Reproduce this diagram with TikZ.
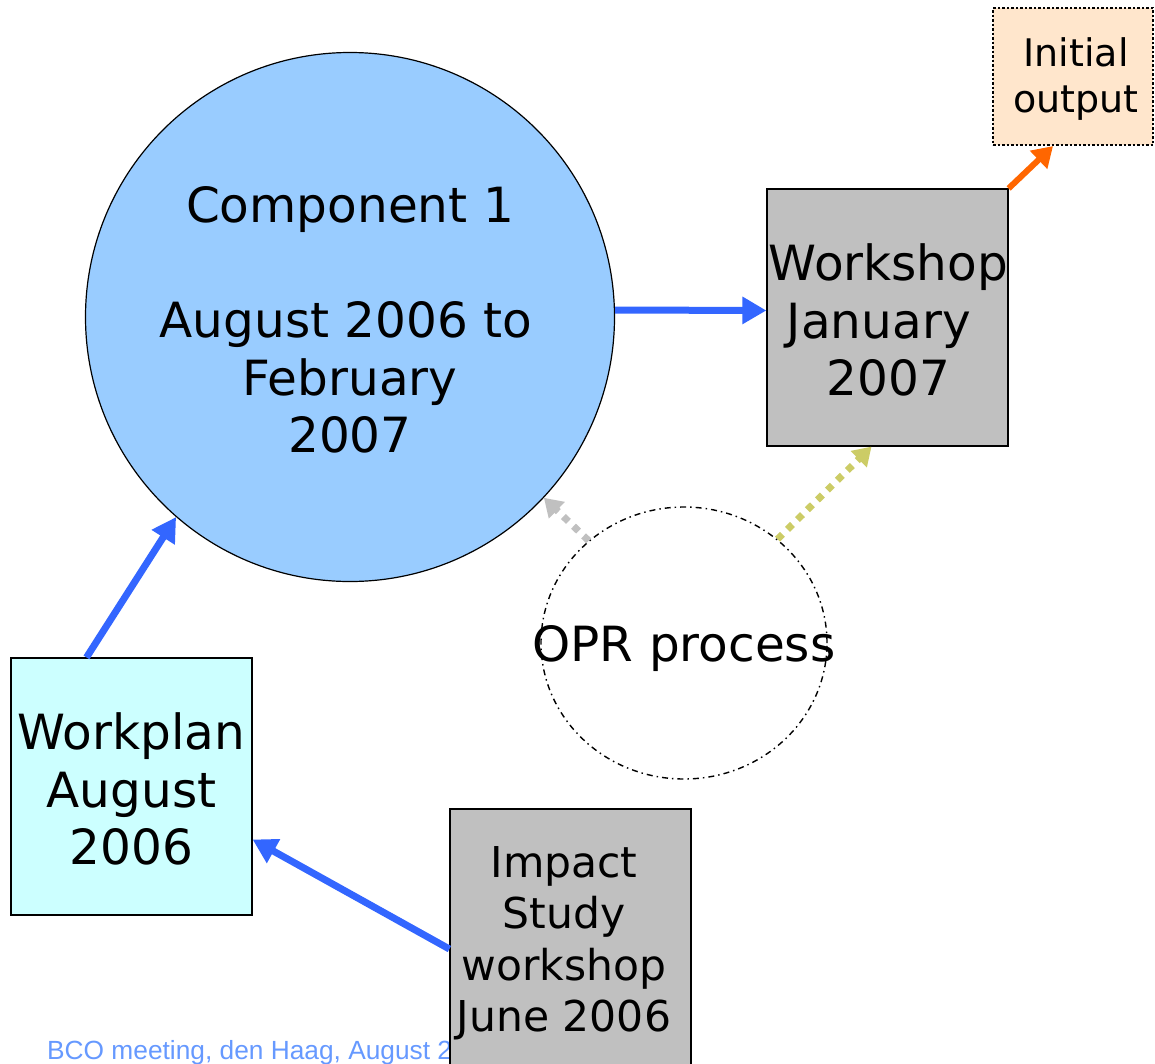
\documentclass[tikz,border=0pt]{standalone}
\usepackage{fontspec}
\setmainfont{DejaVu Sans}
\newfontfamily\footfont{Liberation Sans}
\usetikzlibrary{arrows.meta,shapes.geometric}
\definecolor{compblue}{HTML}{99CCFF}
\definecolor{boxgray}{HTML}{C0C0C0}
\definecolor{planblue}{HTML}{CCFFFF}
\definecolor{peach}{HTML}{FFE6CC}
\definecolor{arrowblue}{HTML}{3366FF}
\definecolor{arroworange}{HTML}{FF6600}
\definecolor{olive}{HTML}{CCCC66}
\definecolor{footblue}{HTML}{6699FF}
\tikzset{
  bigtext/.style={font=\fontsize{48.5}{57.5}\selectfont, align=center},
  boxnode/.style={draw=black, line width=1.2pt, rectangle, inner sep=0pt,
    minimum width=241pt, minimum height=257pt},
  bluearrow/.style={draw=arrowblue, line width=7pt,
    -{Triangle[length=24pt,width=26pt]}},
  dotarrow/.style={line width=7pt, dash pattern=on 7pt off 7pt,
    -{Triangle[length=18pt,width=22pt]}},
}
\begin{document}
\begin{tikzpicture}[x=1pt,y=-1pt]
\useasboundingbox (0,0) rectangle (1155,1063);
% footer (partly hidden by the impact box)
\node[anchor=base west, inner sep=0pt, text=footblue,
  font=\footfont\fontsize{26.3}{31}\selectfont] (foot) at (47,1059)
  {BCO meeting, den Haag, August 2006};
% main circle
\node[circle, draw=black, line width=1.2pt, fill=compblue, minimum size=529pt,
  inner sep=0pt, bigtext] (comp) at (350,317) {};
\node[bigtext, inner sep=0pt] (compt) at (346,320)
  {\kern8pt Component 1\\[0pt] \\ August 2006 to\\ \kern8pt February\\ \kern8pt 2007};
% workshop
\node[boxnode, fill=boxgray, bigtext] (ws) at (887.5,317.5) {};
\node[bigtext, inner sep=0pt] (wst) at (888.5,320)
  {Workshop\\January\kern0.4em\\2007};
% initial output
\node[rectangle, draw=black, line width=2.2pt, dash pattern=on 2.5pt off 2pt,
  fill=peach, inner sep=0pt, minimum width=160pt, minimum height=137pt] (io) at (1073,76.5) {};
\node[font=\fontsize{38}{45.5}\selectfont, align=center, inner sep=0pt]
  (iot) at (1076,79) {Initial\\output};
% workplan
\node[boxnode, fill=planblue] (wp) at (131.5,786.5) {};
\node[bigtext, inner sep=0pt] (wpt) at (131.5,789) {Workplan\\August\\2006};
% impact
\node[boxnode, fill=boxgray, minimum height=262pt] (imp) at (570.5,940) {};
\node[font=\fontsize{42.5}{51.5}\selectfont, align=center, inner sep=0pt]
  (impt) at (564,943) {Impact\\Study\\workshop\\June 2006};
% OPR process
\node[ellipse, draw=black, line width=1.4pt,
  dash pattern=on 6pt off 4pt on 1.5pt off 4pt,
  minimum width=286pt, minimum height=272pt, inner sep=0pt] (opr) at (684,643) {};
\node[bigtext, inner sep=0pt] (oprt) at (684,649) {OPR process};
% connectors
\draw[bluearrow] ([yshift=7pt]comp.east) -- ([yshift=7pt]ws.west);
\draw[bluearrow] ([xshift=-45pt]wp.north) -- (comp.229);
\draw[bluearrow] ([yshift=-9pt]imp.west) -- ([yshift=-53pt]wp.east);
\draw[line width=6pt, draw=arroworange,
  -{Triangle[length=20pt,width=24pt]}] (ws.north east) -- ([xshift=-20pt]io.south);
\draw[dotarrow, draw=boxgray] (opr.133) -- (comp.317);
\draw[dotarrow, draw=olive] (opr.48) -- ([xshift=-16pt]ws.south);
\end{tikzpicture}
\end{document}
